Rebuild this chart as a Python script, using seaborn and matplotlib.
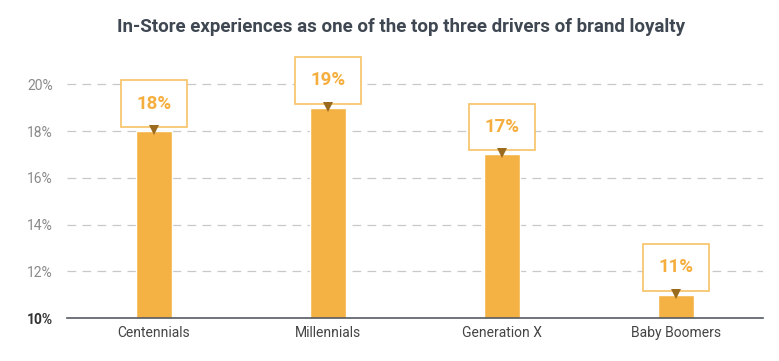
import matplotlib
matplotlib.use("Agg")
import matplotlib.pyplot as plt
import seaborn as sns
import pandas as pd
from matplotlib.patches import Rectangle

categories = ["Centennials", "Millennials", "Generation X", "Baby Boomers"]
values = [18, 19, 17, 11]
yticks = [10, 12, 14, 16, 18, 20]
ytick_labels = ["10%", "12%", "14%", "16%", "18%", "20%"]
title = "In-Store experiences as one of the top three drivers of brand loyalty"

sns.set_theme(style="white")
plt.rcParams["font.family"] = ["Roboto", "DejaVu Sans"]

bar_color = "#F5B244"
df = pd.DataFrame({"cat": categories, "val": values})

fig = plt.figure(figsize=(7.79, 3.61), dpi=100)
ax = fig.add_axes([0.086, 0.119, 0.893, 0.751])

ax.set_ylim(10, 21.6)
for y in yticks[1:]:
    ax.axhline(y, color="#c8c8c8", lw=0.9, ls=(0, (7, 5)), zorder=0)

sns.barplot(data=df, x="cat", y="val", color=bar_color, width=0.205,
            saturation=1, ax=ax, zorder=2, bottom=0)
ax.set_ylim(10, 21.6)
ax.set_xlim(-0.5, 3.5)

for i, v in enumerate(values):
    bw = 0.38
    bh = 2.0
    y0 = v + 0.17
    ax.add_patch(Rectangle((i - bw / 2, y0), bw, bh, facecolor="white",
                           edgecolor="#F7C265", lw=1.2, zorder=4))
    ax.text(i, y0 + bh / 2, f"{v}%", ha="center", va="center", fontsize=13.5,
            fontweight="bold", color="#F5AE3E", zorder=5)
    ax.plot([i], [v + 0.05], marker="v", markersize=7, color="#9A6A1E",
            zorder=5, markeredgewidth=0)

ax.set_yticks(yticks)
ax.set_yticklabels(ytick_labels)
for lbl in ax.get_yticklabels():
    lbl.set_color("#8a8a8a")
    lbl.set_fontsize(10)
ax.get_yticklabels()[0].set_fontweight("bold")
ax.get_yticklabels()[0].set_color("#333333")
ax.tick_params(axis="y", length=0, pad=10)
ax.tick_params(axis="x", length=0, pad=6, labelsize=10, labelcolor="#444444")
ax.set_xlabel("")
ax.set_ylabel("")

for s in ["top", "right", "left"]:
    ax.spines[s].set_visible(False)
ax.spines["bottom"].set_color("#555b63")
ax.spines["bottom"].set_linewidth(1.2)
ax.spines["bottom"].set_zorder(6)

fig.text(0.515, 0.925, title, ha="center", va="center", fontsize=13.5,
         fontweight="bold", color="#3f4852")

fig.savefig("out.png", dpi=100)
